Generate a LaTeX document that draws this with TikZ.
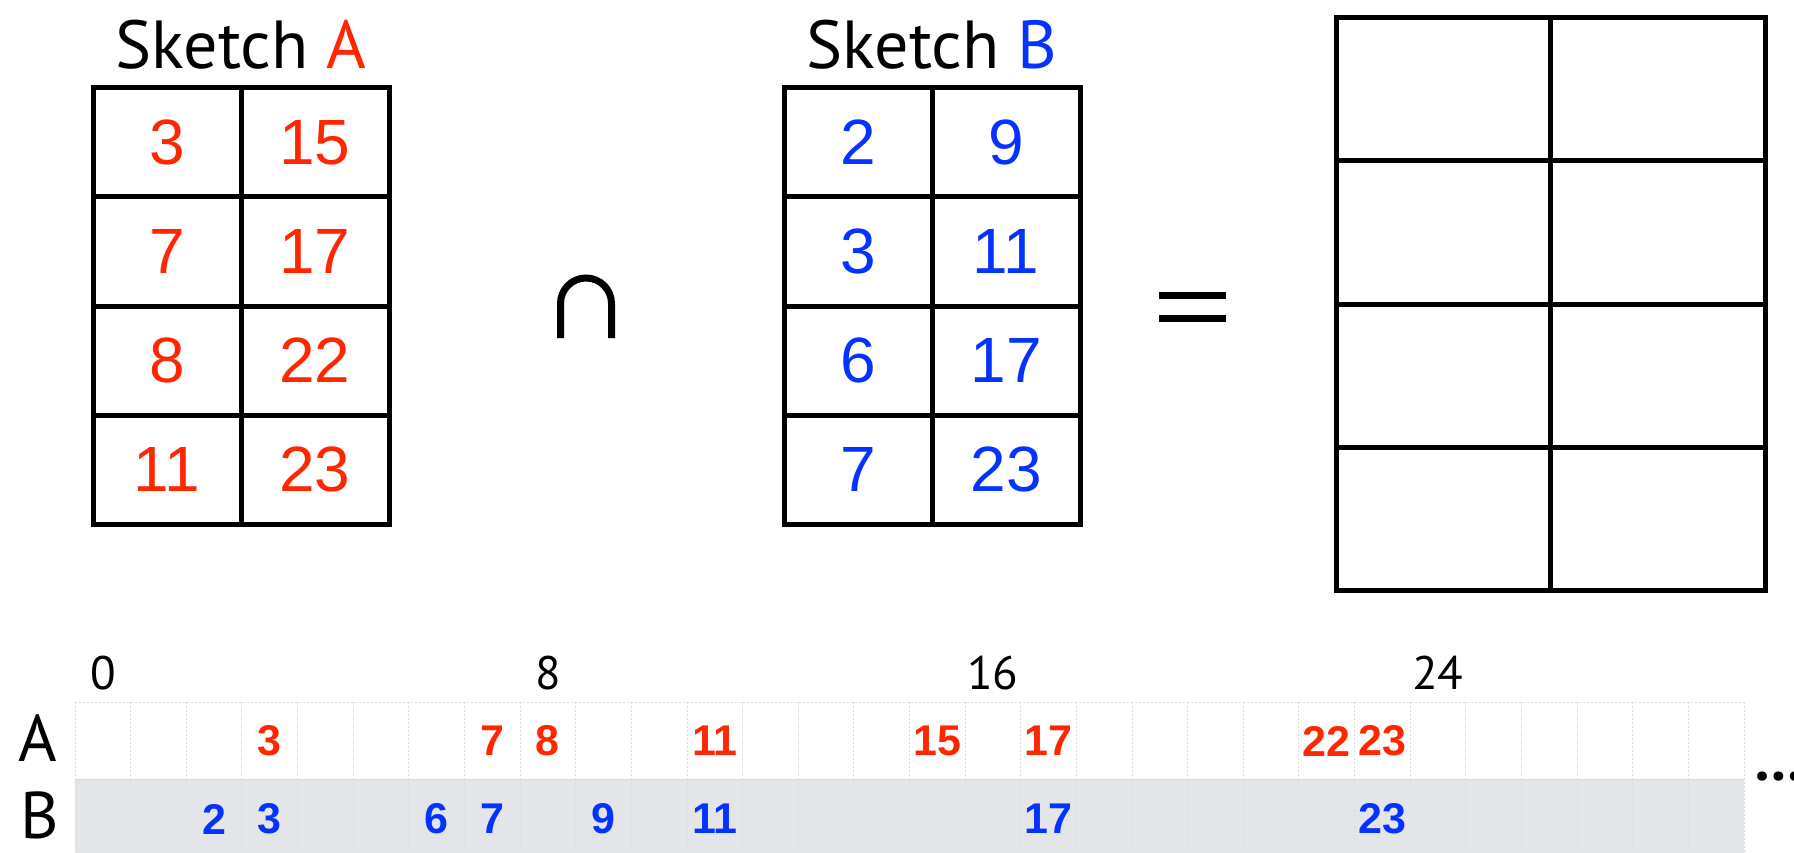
\documentclass[tikz,border=0pt]{standalone}
\usepackage{fontspec}
\setmainfont{PT Sans}
\newfontfamily\cellfont{Liberation Sans}
\usepackage{xcolor}
\usetikzlibrary{positioning}

\definecolor{skred}{RGB}{255,38,0}
\definecolor{skblue}{RGB}{4,51,255}
\definecolor{rowgray}{RGB}{227,229,233}
\definecolor{gridline}{RGB}{212,220,231}

\begin{document}
\begin{tikzpicture}[x=1pt, y=-1pt,
  cell/.style={draw, line width=5pt, minimum width=148pt, minimum height=109pt,
               inner sep=0pt, font=\cellfont\fontsize{64}{64}\selectfont},
  bigcell/.style={draw, line width=5pt, minimum width=214.5pt, minimum height=143pt,
                  inner sep=0pt},
  title/.style={font=\fontsize{68}{68}\selectfont, anchor=base},
  tick/.style={font=\fontsize{47}{47}\selectfont},
  rowlbl/.style={font=\fontsize{66}{66}\selectfont},
  hit/.style={font=\cellfont\bfseries\fontsize{43}{43}\selectfont},
  grid/.style={gridline, line width=0.8pt, dash pattern=on 2pt off 2pt},
  op/.style={line width=7pt}
]
  \useasboundingbox (0,0) rectangle (1794,853);

  % sketch A
  \foreach \v [count=\i] in {3,7,8,11}
    \node[cell, text=skred] (a-\i-1) at (167, 33.5+109*\i) {\v};
  \foreach \v [count=\i] in {15,17,22,23}
    \node[cell, text=skred] (a-\i-2) at (315, 33.5+109*\i) {\v};
  \node[title] (titleA) at (241,69) {Sketch \textcolor{skred}{A}};

  % intersection sign
  \draw[op] (560.5,338) -- (560.5,303.5) arc[start angle=180, end angle=360, radius=25.5] -- (611.5,338);

  % sketch B
  \foreach \v [count=\i] in {2,3,6,7}
    \node[cell, text=skblue] (b-\i-1) at (858.25, 33.5+109*\i) {\v};
  \foreach \v [count=\i] in {9,11,17,23}
    \node[cell, text=skblue] (b-\i-2) at (1006, 33.5+109*\i) {\v};
  \node[title] (titleB) at (932,69) {Sketch \textcolor{skblue}{B}};

  % equals sign
  \draw[op] (1159,295.5) -- (1226,295.5) (1159,318) -- (1226,318);

  % empty result
  \foreach \i in {1,...,4} {
    \node[bigcell] (r-\i-1) at (1443.5, -53.5+143*\i) {};
    \node[bigcell] (r-\i-2) at (1658, -53.5+143*\i) {};
  }

  % bit strip
  \def\cw{55.63}
  \fill[rowgray] (75,779) rectangle (1744,853);
  \foreach \i in {0,...,30}
    \draw[grid] ({75+\i*\cw},702) -- ({75+\i*\cw},853);
  \draw[grid] (75,702) -- (1744,702);
  \draw[gridline, line width=0.8pt] (75,779) -- (1744,779);

  \foreach \t in {0,8,16,24}
    \node[tick] (tick\t) at ({75+(\t+0.5)*\cw}, 673) {\t};
  \node[rowlbl] (rowA) at (38,738) {A};
  \node[rowlbl] (rowB) at (40,815) {B};

  \foreach \v in {3,7,8,11,15,17,22,23}
    \node[hit, text=skred] (ha\v) at ({75+(\v+0.5)*\cw}, 741) {\v};
  \foreach \v in {2,3,6,7,9,11,17,23}
    \node[hit, text=skblue] (hb\v) at ({75+(\v+0.5)*\cw}, 819) {\v};

  \node[font=\bfseries\fontsize{60}{60}\selectfont, anchor=west, inner sep=0pt] (more) at (1754,777) {…};
\end{tikzpicture}
\end{document}
